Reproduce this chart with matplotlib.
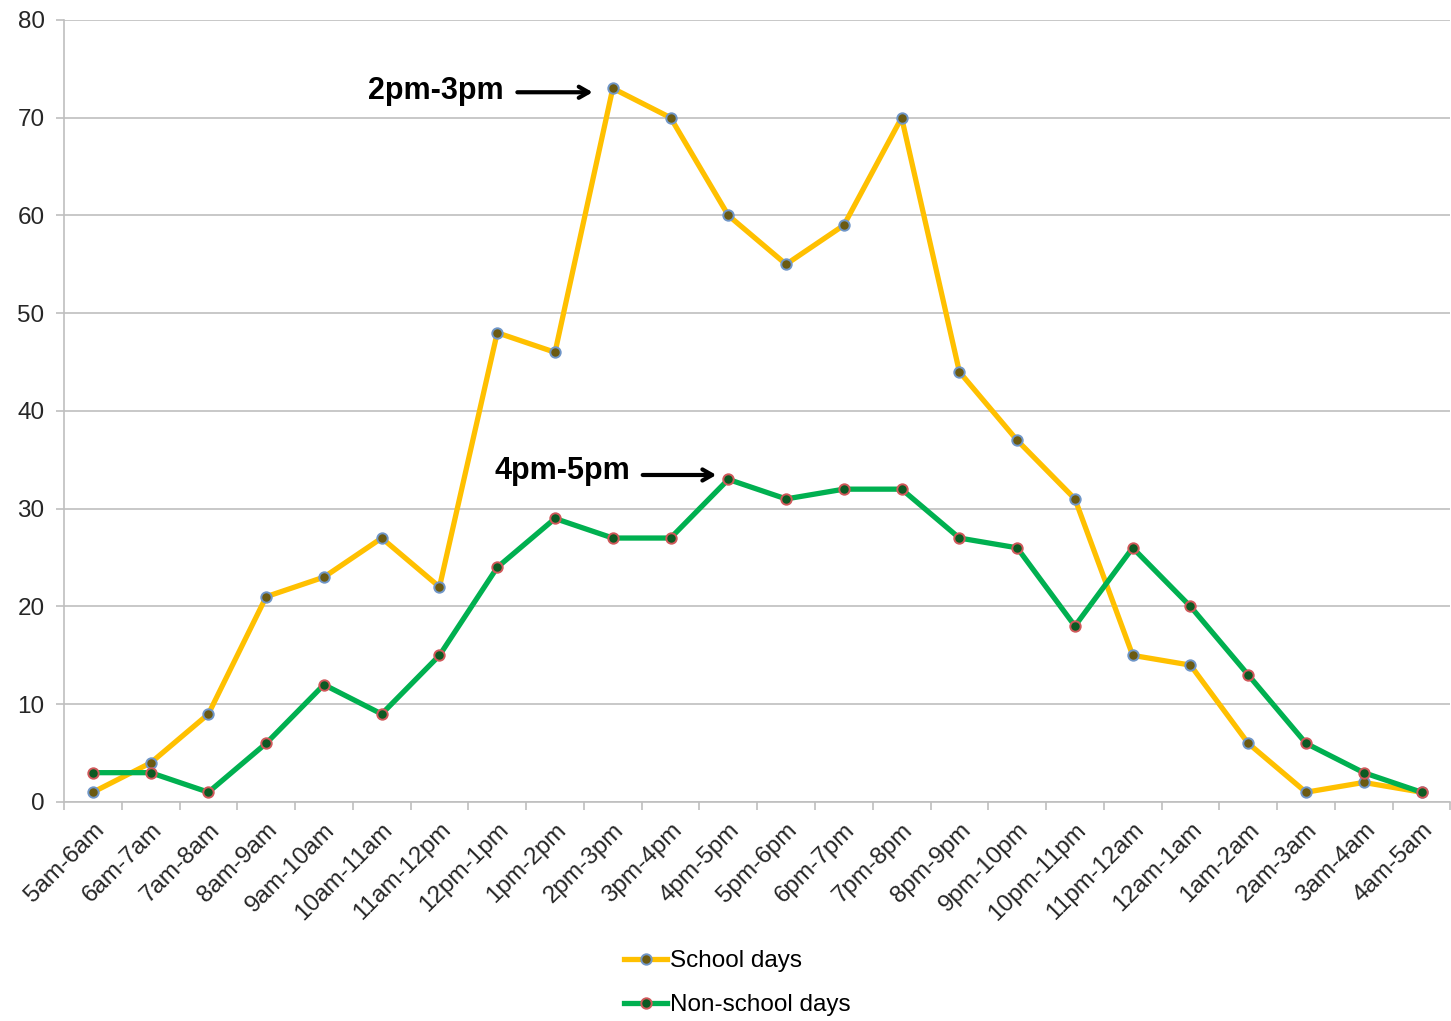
import matplotlib.pyplot as plt

plt.rcParams['font.family'] = ['Liberation Sans', 'DejaVu Sans']

hours = ['5am-6am', '6am-7am', '7am-8am', '8am-9am', '9am-10am', '10am-11am',
         '11am-12pm', '12pm-1pm', '1pm-2pm', '2pm-3pm', '3pm-4pm', '4pm-5pm',
         '5pm-6pm', '6pm-7pm', '7pm-8pm', '8pm-9pm', '9pm-10pm', '10pm-11pm',
         '11pm-12am', '12am-1am', '1am-2am', '2am-3am', '3am-4am', '4am-5am']
school = [1, 4, 9, 21, 23, 27, 22, 48, 46, 73, 70, 60, 55, 59, 70, 44, 37, 31,
          15, 14, 6, 1, 2, 1]
non_school = [3, 3, 1, 6, 12, 9, 15, 24, 29, 27, 27, 33, 31, 32, 32, 27, 26, 18,
              26, 20, 13, 6, 3, 1]

fig = plt.figure(figsize=(14.51, 10.21), dpi=100)
ax = fig.add_axes([0.0441, 0.2145, 0.9555, 0.766])

x = list(range(len(hours)))
ax.plot(x, school, color='#FFC000', lw=3.8, marker='o', markersize=7.5,
        markerfacecolor='#6b5a12', markeredgecolor='#6f96c8', markeredgewidth=1.4,
        label='School days', zorder=3)
ax.plot(x, non_school, color='#00B050', lw=3.8, marker='o', markersize=7.5,
        markerfacecolor='#0b5a23', markeredgecolor='#d0585a', markeredgewidth=1.4,
        label='Non-school days', zorder=3)

ax.set_xlim(-0.5, len(hours) - 0.5)
ax.set_ylim(0, 80)
ax.set_yticks(range(0, 81, 10))
ax.yaxis.grid(True, color='#bfbfbf', lw=1.2)
ax.set_axisbelow(True)

ax.set_xticks(x)
ax.set_xticklabels(hours, rotation=45, ha='right', va='top', rotation_mode='anchor')
ax.set_xticks([i - 0.5 for i in range(len(hours) + 1)], minor=True)
ax.tick_params(axis='x', which='major', length=0, pad=12, labelsize=17.5, labelcolor='#262626')
ax.tick_params(axis='x', which='minor', length=6, color='#bfbfbf', width=1.2)
ax.tick_params(axis='y', length=6, color='#bfbfbf', width=1.2, labelsize=17.5,
               labelcolor='#262626', pad=8)

for s in ['top', 'right']:
    ax.spines[s].set_visible(False)
for s in ['left', 'bottom']:
    ax.spines[s].set_color('#bfbfbf')
    ax.spines[s].set_linewidth(1.2)

# annotations
arrow = dict(arrowstyle='->,head_length=0.7,head_width=0.4', lw=3, color='black')
ax.text(5.93, 72.7, '2pm-3pm', fontsize=22, fontweight='bold', ha='center', va='center')
ax.annotate('', xy=(8.7, 72.6), xytext=(7.3, 72.6), arrowprops=arrow)
ax.text(8.13, 33.9, '4pm-5pm', fontsize=22, fontweight='bold', ha='center', va='center')
ax.annotate('', xy=(10.84, 33.45), xytext=(9.47, 33.45), arrowprops=arrow)

fig.legend(loc='center', bbox_to_anchor=(0.508, 0.037), ncol=1, frameon=False,
           fontsize=17.5, handlelength=1.8, handletextpad=0.1, labelspacing=0.9)

fig.savefig('out.png', dpi=100)
